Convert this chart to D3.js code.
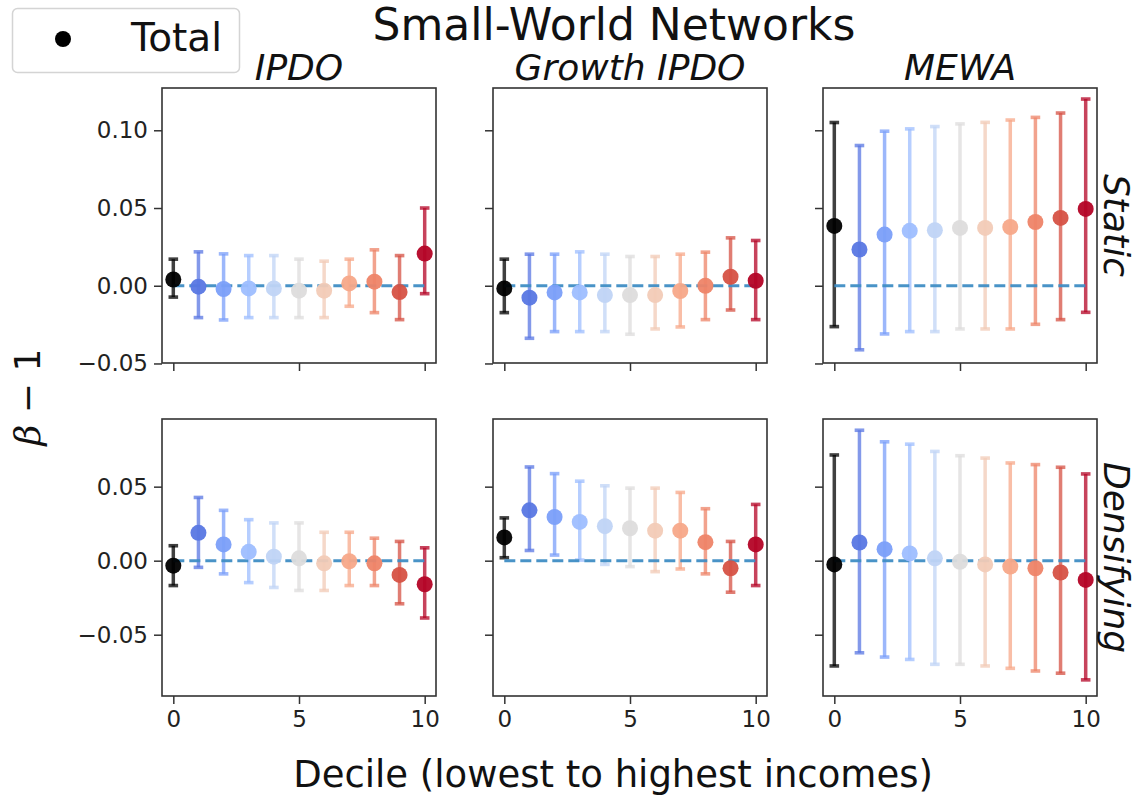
<!DOCTYPE html>
<html>
<head>
<meta charset="utf-8">
<script src="https://cdn.jsdelivr.net/npm/d3@7"></script>
<style>
  html, body { margin: 0; padding: 0; background: #ffffff; }
  svg { display: block; font-family: "DejaVu Sans", sans-serif; }
</style>
</head>
<body>
<svg id="chart" width="1140" height="805"></svg>
<script>
// Deciles on the x axis (0 = total population, 1..10 = income deciles)
const deciles = [0, 1, 2, 3, 4, 5, 6, 7, 8, 9, 10];
const methods = ["IPDO", "Growth IPDO", "MEWA"];
const regimes = ["Static", "Densifying"];

// Static networks: point estimate and error-bar ends of beta - 1
const staticIpdoMean = [0.0040, -0.0006, -0.0021, -0.0017, -0.0017, -0.0032, -0.0032, 0.0015, 0.0026, -0.0041, 0.0207];
const staticIpdoHigh = [0.0171, 0.0218, 0.0205, 0.0194, 0.0194, 0.0171, 0.0158, 0.0171, 0.0231, 0.0194, 0.0500];
const staticIpdoLow  = [-0.0073, -0.0205, -0.0220, -0.0205, -0.0205, -0.0205, -0.0205, -0.0132, -0.0173, -0.0218, -0.0051];

const staticGrowthMean = [-0.0017, -0.0077, -0.0043, -0.0043, -0.0060, -0.0060, -0.0060, -0.0034, 0.0000, 0.0058, 0.0032];
const staticGrowthHigh = [0.0171, 0.0203, 0.0203, 0.0218, 0.0203, 0.0188, 0.0188, 0.0203, 0.0216, 0.0308, 0.0291];
const staticGrowthLow  = [-0.0173, -0.0338, -0.0295, -0.0295, -0.0295, -0.0312, -0.0278, -0.0265, -0.0218, -0.0156, -0.0218];

const staticMewaMean = [0.0385, 0.0233, 0.0329, 0.0353, 0.0357, 0.0372, 0.0372, 0.0378, 0.0410, 0.0436, 0.0494];
const staticMewaHigh = [0.1050, 0.0902, 0.0994, 0.1009, 0.1024, 0.1041, 0.1051, 0.1066, 0.1083, 0.1111, 0.1201];
const staticMewaLow  = [-0.0263, -0.0412, -0.0310, -0.0295, -0.0295, -0.0278, -0.0278, -0.0278, -0.0248, -0.0218, -0.0171];

// Densifying networks
const densIpdoMean = [-0.0034, 0.0188, 0.0110, 0.0060, 0.0027, 0.0016, -0.0018, -0.0004, -0.0018, -0.0096, -0.0159];
const densIpdoHigh = [0.0101, 0.0427, 0.0340, 0.0277, 0.0255, 0.0255, 0.0192, 0.0192, 0.0152, 0.0130, 0.0087];
const densIpdoLow  = [-0.0168, -0.0045, -0.0089, -0.0148, -0.0181, -0.0201, -0.0201, -0.0168, -0.0168, -0.0291, -0.0387];

const densGrowthMean = [0.0157, 0.0340, 0.0295, 0.0262, 0.0233, 0.0219, 0.0203, 0.0203, 0.0125, -0.0051, 0.0110];
const densGrowthHigh = [0.0289, 0.0633, 0.0588, 0.0537, 0.0506, 0.0490, 0.0490, 0.0461, 0.0351, 0.0130, 0.0380];
const densGrowthLow  = [0.0020, 0.0069, 0.0038, 0.0004, -0.0025, -0.0040, -0.0074, -0.0056, -0.0089, -0.0213, -0.0168];

const densMewaMean = [-0.0025, 0.0123, 0.0078, 0.0049, 0.0016, -0.0007, -0.0025, -0.0040, -0.0051, -0.0080, -0.0130];
const densMewaHigh = [0.0714, 0.0881, 0.0803, 0.0787, 0.0738, 0.0709, 0.0693, 0.0660, 0.0649, 0.0631, 0.0586];
const densMewaLow  = [-0.0711, -0.0622, -0.0651, -0.0667, -0.0700, -0.0700, -0.0711, -0.0727, -0.0745, -0.0760, -0.0805];

// Tick values
const xTicks = [0, 5, 10];
const staticYTicks = [-0.05, 0.00, 0.05, 0.10];
const densYTicks = [-0.05, 0.00, 0.05];

// Marker colours: black for the total, coolwarm for deciles 1..10
const decileColors = ["#000000", "#5977e3", "#7b9ff9", "#9ebeff", "#c0d4f5", "#dddcdc",
                      "#f2cbb7", "#f7a889", "#ee8468", "#d65244", "#b40426"];

// Panel table built from the arrays above
const panels = [
  [ {mean: staticIpdoMean, hi: staticIpdoHigh, lo: staticIpdoLow},
    {mean: staticGrowthMean, hi: staticGrowthHigh, lo: staticGrowthLow},
    {mean: staticMewaMean, hi: staticMewaHigh, lo: staticMewaLow} ],
  [ {mean: densIpdoMean, hi: densIpdoHigh, lo: densIpdoLow},
    {mean: densGrowthMean, hi: densGrowthHigh, lo: densGrowthLow},
    {mean: densMewaMean, hi: densMewaHigh, lo: densMewaLow} ]
];

// Layout
const colX = [162, 493, 823];
const panelW = 274;
const rowY = [88, 419];
const rowH = [275, 277];
const rowDomain = [[-0.0497, 0.1272], [-0.0914, 0.0957]];
const rowTicks = [staticYTicks, densYTicks];

const svg = d3.select("#chart");
const fmt = d3.format(".2f");
const axisColor = "#333333";

// Figure title
svg.append("text")
  .attr("x", 614).attr("y", 40)
  .attr("text-anchor", "middle")
  .attr("font-size", 44)
  .attr("fill", "#111")
  .text("Small-World Networks");

// Column titles
methods.forEach((m, c) => {
  svg.append("text")
    .attr("x", colX[c] + panelW / 2).attr("y", 80)
    .attr("text-anchor", "middle")
    .attr("font-size", 36)
    .attr("font-style", "italic")
    .attr("fill", "#111")
    .text(m);
});

regimes.forEach((reg, r) => {
  methods.forEach((m, c) => {
    const W = panelW, H = rowH[r];
    const g = svg.append("g").attr("transform", `translate(${colX[c]},${rowY[r]})`);
    const x = d3.scaleLinear().domain([-0.45, 10.45]).range([0, W]);
    const y = d3.scaleLinear().domain(rowDomain[r]).range([H, 0]);
    const d = panels[r][c];

    // Axes
    const yAxis = d3.axisLeft(y).tickValues(rowTicks[r]).tickSize(8).tickPadding(6)
      .tickFormat(c === 0 ? fmt : () => "");
    const xAxis = d3.axisBottom(x).tickValues(xTicks).tickSize(8).tickPadding(7)
      .tickFormat(r === 1 ? d3.format("d") : () => "");
    const ya = g.append("g").call(yAxis);
    const xa = g.append("g").attr("transform", `translate(0,${H})`).call(xAxis);
    [ya, xa].forEach(a => {
      a.select(".domain").remove();
      a.selectAll(".tick line").attr("stroke", axisColor).attr("stroke-width", 1.5);
      a.selectAll(".tick text").attr("fill", "#222").attr("font-size", 23)
        .attr("font-family", "DejaVu Sans, sans-serif");
    });

    const clipId = `clip-${r}-${c}`;
    g.append("clipPath").attr("id", clipId)
      .append("rect").attr("width", W).attr("height", H);
    const plot = g.append("g").attr("clip-path", `url(#${clipId})`);

    // Error bars with caps
    const bars = plot.selectAll(".bar").data(deciles).join("g").attr("class", "bar");
    bars.append("line")
      .attr("x1", i => x(i)).attr("x2", i => x(i))
      .attr("y1", i => y(d.lo[i])).attr("y2", i => y(d.hi[i]))
      .attr("stroke", i => decileColors[i]).attr("stroke-width", 3.5)
      .attr("stroke-opacity", 0.75);
    ["lo", "hi"].forEach(k => {
      bars.append("line")
        .attr("x1", i => x(i) - 4.8).attr("x2", i => x(i) + 4.8)
        .attr("y1", i => y(d[k][i])).attr("y2", i => y(d[k][i]))
        .attr("stroke", i => decileColors[i]).attr("stroke-width", 3.6)
        .attr("stroke-opacity", 0.75);
    });

    // Reference line at beta - 1 = 0
    plot.append("line")
      .attr("x1", x(0)).attr("x2", x(10))
      .attr("y1", y(0)).attr("y2", y(0))
      .attr("stroke", "#3f8dc4").attr("stroke-width", 3)
      .attr("stroke-dasharray", "11,5")
      .attr("stroke-opacity", 0.95);

    // Point estimates
    plot.selectAll(".pt").data(deciles).join("circle").attr("class", "pt")
      .attr("cx", i => x(i)).attr("cy", i => y(d.mean[i]))
      .attr("r", 8)
      .attr("fill", i => decileColors[i])
      .attr("fill-opacity", 0.95);

    // Frame
    g.append("rect")
      .attr("width", W).attr("height", H)
      .attr("fill", "none").attr("stroke", axisColor).attr("stroke-width", 1.6);

    // Row label on the right margin
    if (c === 2) {
      const cy = rowY[r] + H / 2;
      svg.append("text")
        .attr("transform", `translate(1104,${cy}) rotate(90)`)
        .attr("text-anchor", "middle")
        .attr("font-size", 36)
        .attr("font-style", "italic")
        .attr("fill", "#111")
        .text(reg);
    }
  });
});

// Shared axis labels
svg.append("text")
  .attr("x", 613).attr("y", 787)
  .attr("text-anchor", "middle")
  .attr("font-size", 37)
  .attr("fill", "#111")
  .text("Decile (lowest to highest incomes)");

svg.append("text")
  .attr("transform", "translate(40,397) rotate(-90)")
  .attr("text-anchor", "middle")
  .attr("font-size", 36)
  .attr("fill", "#111")
  .html('<tspan font-family="DejaVu Serif" font-style="italic">β</tspan> − 1');

// Legend
const legend = svg.append("g");
legend.append("rect")
  .attr("x", 12.5).attr("y", 8.5).attr("width", 227).attr("height", 64)
  .attr("rx", 5).attr("fill", "#fff")
  .attr("stroke", "#d4d4d4").attr("stroke-width", 1.5);
legend.append("circle").attr("cx", 63).attr("cy", 39).attr("r", 8).attr("fill", "#000");
legend.append("text")
  .attr("x", 131).attr("y", 51)
  .attr("font-size", 39).attr("fill", "#111")
  .text("Total");
</script>
</body>
</html>
